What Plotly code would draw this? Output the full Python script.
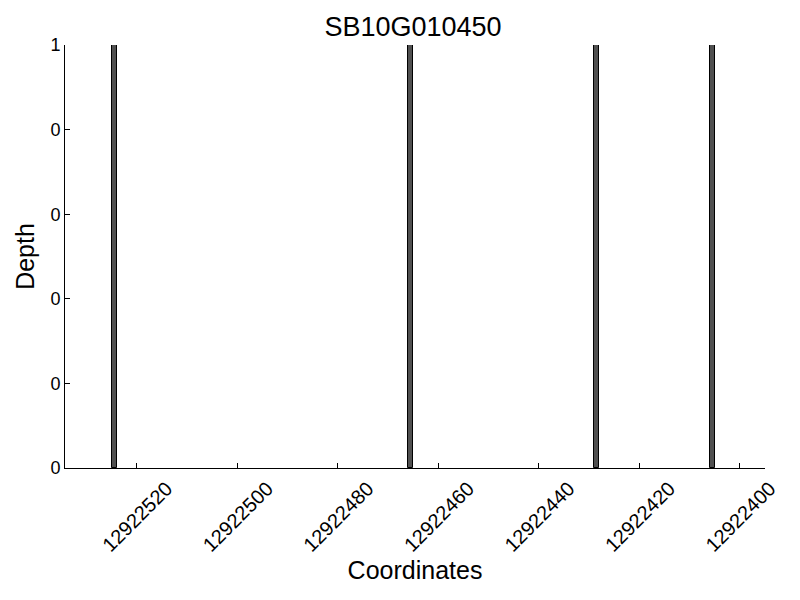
import plotly.graph_objects as go

title = "SB10G010450"
positions = [12922524, 12922465, 12922428, 12922405]
depths = [1, 1, 1, 1]
x_ticks = [12922520, 12922500, 12922480, 12922460, 12922440, 12922420, 12922400]
y_ticks = [0, 0.2, 0.4, 0.6, 0.8, 1.0]
y_tick_labels = ["0", "0", "0", "0", "0", "1"]

fig = go.Figure(go.Bar(
    x=positions, y=depths, width=1, offset=0,
    marker=dict(color="#505050", line=dict(color="black", width=1)),
))

font = "Liberation Sans, Arial, sans-serif"
W, H = 784, 584
fig.update_layout(
    width=W, height=H,
    margin=dict(l=57, r=27, t=37, b=124),
    plot_bgcolor="white", paper_bgcolor="white",
    font=dict(family=font, color="black", size=18),
    title=dict(text=title, x=405 / W, xanchor="center", y=1 - 19 / H, yanchor="middle",
               font=dict(size=27, family=font)),
    showlegend=False,
    bargap=0,
)
fig.update_xaxes(
    range=[12922534.25, 12922395.0],
    tickvals=x_ticks, ticktext=[str(v) for v in x_ticks],
    tickangle=-45, ticks="inside", ticklen=5, tickcolor="black",
    ticklabelshift=-30,
    showline=True, linecolor="black", linewidth=1, showgrid=False, zeroline=False,
    tickfont=dict(size=20),
    title=dict(text="Coordinates", font=dict(size=25), standoff=6),
)
fig.update_yaxes(
    range=[0, 1],
    tickvals=y_ticks, ticktext=y_tick_labels,
    ticks="inside", ticklen=5, tickcolor="black",
    showline=True, linecolor="black", linewidth=1, showgrid=False, zeroline=False,
    tickfont=dict(size=18),
    title=dict(text="Depth", font=dict(size=25), standoff=8),
)

fig.write_html("out.html")
